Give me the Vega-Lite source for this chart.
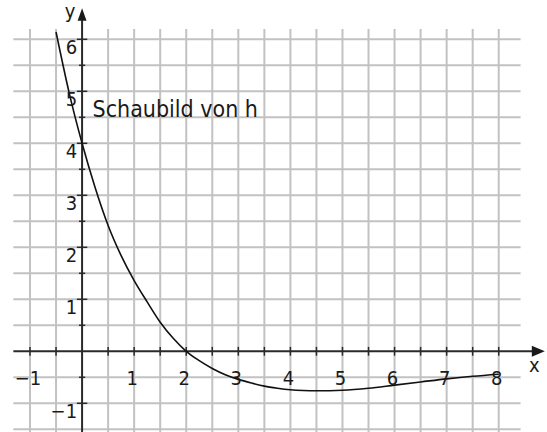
{
  "$schema": "https://vega.github.io/schema/vega-lite/v6.json",
  "width": 547,
  "height": 432,
  "autosize": {"type": "none"},
  "padding": 0,
  "background": "white",
  "config": {"view": {"stroke": null}, "text": {"font": "'DejaVu Sans Condensed', 'Liberation Sans Narrow', sans-serif", "color": "#1a1a1a"}},
  "datasets": {
    "vgrid": [{"x": -1}, {"x": -0.5}, {"x": 0.5}, {"x": 1}, {"x": 1.5}, {"x": 2}, {"x": 2.5}, {"x": 3}, {"x": 3.5}, {"x": 4}, {"x": 4.5}, {"x": 5}, {"x": 5.5}, {"x": 6}, {"x": 6.5}, {"x": 7}, {"x": 7.5}, {"x": 8}],
    "hgrid": [{"y": -1.5}, {"y": -1}, {"y": -0.5}, {"y": 0.5}, {"y": 1}, {"y": 1.5}, {"y": 2}, {"y": 2.5}, {"y": 3}, {"y": 3.5}, {"y": 4}, {"y": 4.5}, {"y": 5}, {"y": 5.5}, {"y": 6}],
    "xticks": [{"x": -1}, {"x": -0.5}, {"x": 0.5}, {"x": 1}, {"x": 1.5}, {"x": 2}, {"x": 2.5}, {"x": 3}, {"x": 3.5}, {"x": 4}, {"x": 4.5}, {"x": 5}, {"x": 5.5}, {"x": 6}, {"x": 6.5}, {"x": 7}, {"x": 7.5}, {"x": 8}],
    "yticksMajor": [{"y": -1}, {"y": 1}, {"y": 2}, {"y": 3}, {"y": 4}, {"y": 5}, {"y": 6}],
    "yticksMinor": [{"y": -0.5}, {"y": 0.5}, {"y": 1.5}, {"y": 2.5}, {"y": 3.5}, {"y": 4.5}, {"y": 5.5}],
    "curve": [
      {"x": -0.5, "y": 6.14}, {"x": -0.25, "y": 4.98}, {"x": 0, "y": 4.0}, {"x": 0.25, "y": 3.15}, {"x": 0.5, "y": 2.42},
      {"x": 0.75, "y": 1.84}, {"x": 1, "y": 1.36}, {"x": 1.25, "y": 0.95}, {"x": 1.5, "y": 0.56}, {"x": 1.75, "y": 0.25},
      {"x": 2, "y": 0}, {"x": 2.25, "y": -0.18}, {"x": 2.5, "y": -0.33}, {"x": 2.75, "y": -0.45}, {"x": 3, "y": -0.54},
      {"x": 3.25, "y": -0.61}, {"x": 3.5, "y": -0.67}, {"x": 3.75, "y": -0.71}, {"x": 4, "y": -0.74}, {"x": 4.25, "y": -0.755},
      {"x": 4.5, "y": -0.76}, {"x": 4.75, "y": -0.758}, {"x": 5, "y": -0.75}, {"x": 5.5, "y": -0.71}, {"x": 6, "y": -0.65},
      {"x": 6.5, "y": -0.59}, {"x": 7, "y": -0.53}, {"x": 7.5, "y": -0.48}, {"x": 8, "y": -0.44}
    ],
    "xlabels": [{"x": -1, "t": "−1"}, {"x": 1, "t": "1"}, {"x": 2, "t": "2"}, {"x": 3, "t": "3"}, {"x": 4, "t": "4"}, {"x": 5, "t": "5"}, {"x": 6, "t": "6"}, {"x": 7, "t": "7"}, {"x": 8, "t": "8"}],
    "ylabels": [{"y": -1, "t": "−1"}, {"y": 1, "t": "1"}, {"y": 2, "t": "2"}, {"y": 3, "t": "3"}, {"y": 4, "t": "4"}, {"y": 5, "t": "5"}, {"y": 6, "t": "6"}]
  },
  "layer": [
    {
      "data": {"name": "vgrid"},
      "mark": {"type": "rule", "color": "#c2c2c2", "strokeWidth": 2},
      "encoding": {
        "x": {"field": "x", "type": "quantitative", "scale": {"domain": [-1.576, 8.927], "nice": false, "zero": false}, "axis": null},
        "y": {"datum": -1.6, "type": "quantitative", "scale": {"domain": [-1.552, 6.756], "nice": false, "zero": false}, "axis": null},
        "y2": {"datum": 6.2}
      }
    },
    {
      "data": {"name": "hgrid"},
      "mark": {"type": "rule", "color": "#c2c2c2", "strokeWidth": 2},
      "encoding": {
        "y": {"field": "y", "type": "quantitative"},
        "x": {"datum": -1.32, "type": "quantitative"},
        "x2": {"datum": 8.42}
      }
    },
    {
      "data": {"values": [{}]},
      "mark": {"type": "rule", "color": "#2a2a2a", "strokeWidth": 2},
      "encoding": {
        "x": {"datum": -1.32, "type": "quantitative"},
        "x2": {"datum": 8.66},
        "y": {"datum": 0, "type": "quantitative"}
      }
    },
    {
      "data": {"values": [{}]},
      "mark": {"type": "rule", "color": "#2a2a2a", "strokeWidth": 2},
      "encoding": {
        "x": {"datum": 0, "type": "quantitative"},
        "y": {"datum": -1.6, "type": "quantitative"},
        "y2": {"datum": 6.38}
      }
    },
    {
      "data": {"values": [{}]},
      "mark": {"type": "point", "shape": "M-1,-0.85L1,0L-1,0.85Z", "size": 169, "filled": true, "color": "#1a1a1a", "opacity": 1},
      "encoding": {
        "x": {"datum": 8.76, "type": "quantitative"},
        "y": {"datum": 0, "type": "quantitative"}
      }
    },
    {
      "data": {"values": [{}]},
      "mark": {"type": "point", "shape": "M-0.72,1L0,-1L0.72,1Z", "size": 154, "filled": true, "color": "#1a1a1a", "opacity": 1},
      "encoding": {
        "x": {"datum": 0, "type": "quantitative"},
        "y": {"datum": 6.477, "type": "quantitative"}
      }
    },
    {
      "data": {"name": "xticks"},
      "mark": {"type": "rule", "color": "#2a2a2a", "strokeWidth": 1.5},
      "encoding": {
        "x": {"field": "x", "type": "quantitative"},
        "y": {"datum": -0.085, "type": "quantitative"},
        "y2": {"datum": 0.085}
      }
    },
    {
      "data": {"name": "yticksMajor"},
      "mark": {"type": "rule", "color": "#2a2a2a", "strokeWidth": 1.5},
      "encoding": {
        "y": {"field": "y", "type": "quantitative"},
        "x": {"datum": -0.1, "type": "quantitative"},
        "x2": {"datum": 0.1}
      }
    },
    {
      "data": {"name": "yticksMinor"},
      "mark": {"type": "rule", "color": "#2a2a2a", "strokeWidth": 1.5},
      "encoding": {
        "y": {"field": "y", "type": "quantitative"},
        "x": {"datum": -0.06, "type": "quantitative"},
        "x2": {"datum": 0.06}
      }
    },
    {
      "data": {"name": "curve"},
      "mark": {"type": "line", "color": "#111111", "strokeWidth": 1.6, "interpolate": "monotone"},
      "encoding": {
        "x": {"field": "x", "type": "quantitative"},
        "y": {"field": "y", "type": "quantitative"}
      }
    },
    {
      "data": {"name": "xlabels"},
      "mark": {"type": "text", "fontSize": 20, "align": "center", "baseline": "alphabetic", "dx": -2, "dy": 34},
      "encoding": {
        "x": {"field": "x", "type": "quantitative"},
        "y": {"datum": 0, "type": "quantitative"},
        "text": {"field": "t"}
      }
    },
    {
      "data": {"name": "ylabels"},
      "mark": {"type": "text", "fontSize": 20, "align": "right", "baseline": "alphabetic", "dx": -5, "dy": 15},
      "encoding": {
        "y": {"field": "y", "type": "quantitative"},
        "x": {"datum": 0, "type": "quantitative"},
        "text": {"field": "t"}
      }
    },
    {
      "data": {"values": [{"x": 8.76, "y": 0, "t": "x"}]},
      "mark": {"type": "text", "fontSize": 20, "align": "center", "baseline": "alphabetic", "dx": -4, "dy": 21},
      "encoding": {
        "x": {"field": "x", "type": "quantitative"},
        "y": {"field": "y", "type": "quantitative"},
        "text": {"field": "t"}
      }
    },
    {
      "data": {"values": [{"x": 0, "y": 6.477, "t": "y"}]},
      "mark": {"type": "text", "fontSize": 20, "align": "center", "baseline": "alphabetic", "dx": -12, "dy": 3.5},
      "encoding": {
        "x": {"field": "x", "type": "quantitative"},
        "y": {"field": "y", "type": "quantitative"},
        "text": {"field": "t"}
      }
    },
    {
      "data": {"values": [{"x": 0.2, "y": 4.5, "t": "Schaubild von h"}]},
      "mark": {"type": "text", "fontSize": 23, "align": "left", "baseline": "alphabetic"},
      "encoding": {
        "x": {"field": "x", "type": "quantitative"},
        "y": {"field": "y", "type": "quantitative"},
        "text": {"field": "t"}
      }
    }
  ]
}
